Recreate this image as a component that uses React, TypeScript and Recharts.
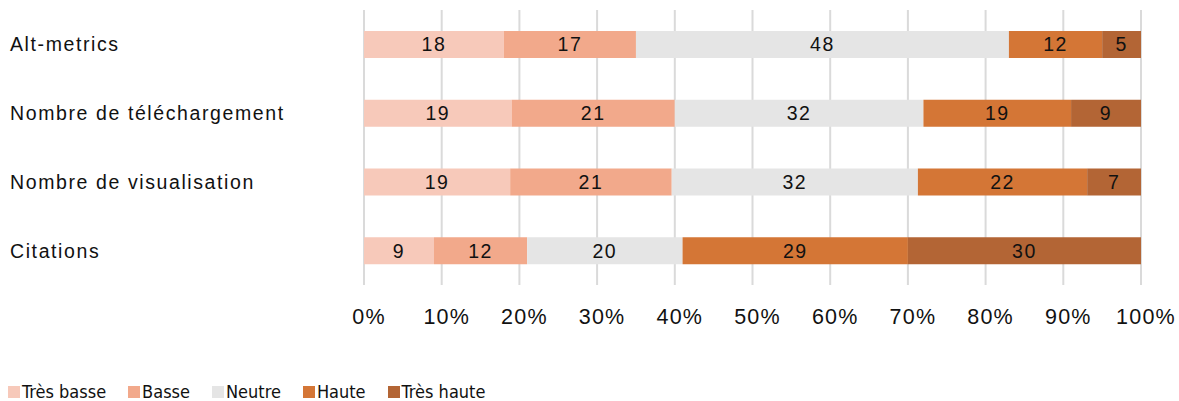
import { BarChart, Bar, XAxis, YAxis, CartesianGrid, Legend, LabelList } from 'recharts';

const categories = ['Alt-metrics', 'Nombre de téléchargement', 'Nombre de visualisation', 'Citations'];
const tresBasse = [18, 19, 19, 9];
const basse = [17, 21, 21, 12];
const neutre = [48, 32, 32, 20];
const haute = [12, 19, 22, 29];
const tresHaute = [5, 9, 7, 30];
const xTicks = [0, 0.1, 0.2, 0.3, 0.4, 0.5, 0.6, 0.7, 0.8, 0.9, 1];

const SERIES = [
  { key: 'tresBasse', name: 'Très basse', color: '#F7C9BA' },
  { key: 'basse', name: 'Basse', color: '#F2A98B' },
  { key: 'neutre', name: 'Neutre', color: '#E5E5E5' },
  { key: 'haute', name: 'Haute', color: '#D47636' },
  { key: 'tresHaute', name: 'Très haute', color: '#B36535' },
];

const data = categories.map((c, i) => ({
  cat: c,
  tresBasse: tresBasse[i],
  basse: basse[i],
  neutre: neutre[i],
  haute: haute[i],
  tresHaute: tresHaute[i],
}));

const FONT = '"Liberation Sans", Arial, sans-serif';
const CONDENSED = '"DejaVu Sans Condensed", "Liberation Sans", Arial, sans-serif';

const CatTick = (p: any) => (
  <text x={10} y={p.y} textAnchor="start" dominantBaseline="central" fontSize={19.5} letterSpacing={1.6} fill="#111" fontFamily={FONT}>
    {p.payload.value}
  </text>
);

const PctTick = (p: any) => (
  <text x={p.x + 5} y={p.y} textAnchor="middle" dominantBaseline="central" fontSize={21.5} letterSpacing={1.2} fill="#111" fontFamily={FONT}>
    {`${Math.round(p.payload.value * 100)}%`}
  </text>
);

const LegendBox = () => (
  <div style={{ display: 'flex', gap: 22, paddingLeft: 8, fontFamily: CONDENSED, fontStretch: 'condensed', fontSize: 18, color: '#111', lineHeight: '18px' }}>
    {SERIES.map(s => (
      <div key={s.key} style={{ display: 'flex', alignItems: 'center', gap: 2 }}>
        <span style={{ width: 12, height: 12, background: s.color, display: 'inline-block' }} />
        <span>{s.name}</span>
      </div>
    ))}
  </div>
);

export default function App() {
  return (
    <div style={{ position: 'absolute', left: 0, top: 0 }}>
      <BarChart
        width={1179}
        height={401}
        data={data}
        layout="vertical"
        stackOffset="expand"
        margin={{ top: 10, right: 38, left: 0, bottom: 0 }}
      >
        <CartesianGrid horizontal={false} stroke="#DADADA" strokeWidth={2} />
        <XAxis
          type="number"
          domain={[0, 1]}
          ticks={xTicks}
          axisLine={false}
          tickLine={false}
          tickMargin={26}
          height={98}
          interval={0}
          tick={<PctTick />}
        />
        <YAxis type="category" dataKey="cat" width={364} axisLine={false} tickLine={false} tick={<CatTick />} />
        <Legend verticalAlign="bottom" align="left" content={<LegendBox />} wrapperStyle={{ height: 18 }} />
        {SERIES.map(s => (
          <Bar key={s.key} dataKey={s.key} name={s.name} stackId="a" fill={s.color} barSize={27} isAnimationActive={false}>
            <LabelList dataKey={s.key} position="center" fill="#111" fontSize={19.5} fontFamily={FONT} letterSpacing={1.5} />
          </Bar>
        ))}
      </BarChart>
    </div>
  );
}
